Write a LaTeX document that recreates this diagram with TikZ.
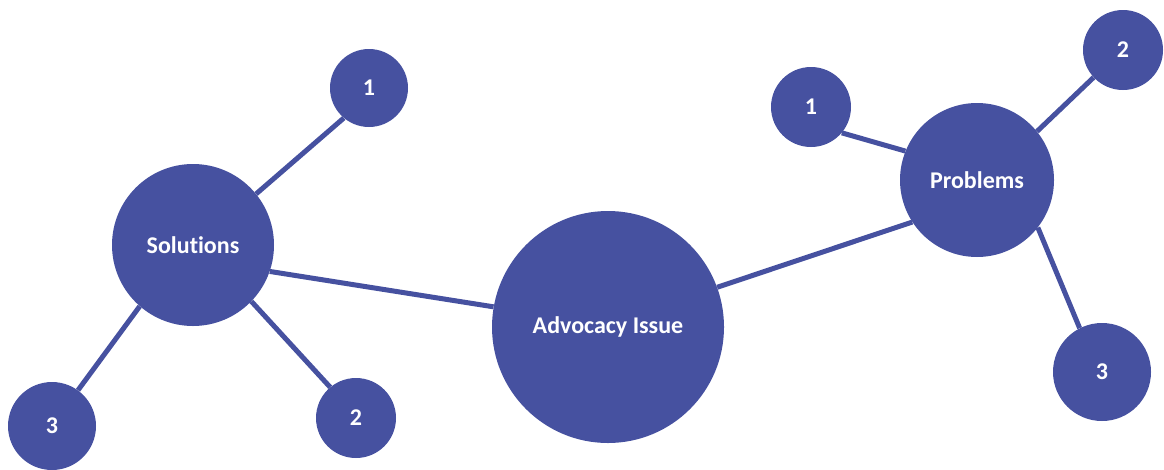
\documentclass[tikz,border=0pt]{standalone}
\usepackage{fontspec}
\setmainfont{Carlito}[Ligatures=NoCommon]
\usetikzlibrary{positioning}
\definecolor{hubblue}{RGB}{70,81,160}

\tikzset{
  bubble/.style={circle, fill=hubblue, text=white, inner sep=0pt,
    font=\bfseries\fontsize{24}{28}\selectfont},
  spoke/.style={draw=hubblue, line width=5pt}
}

\begin{document}
\begin{tikzpicture}[x=1pt,y=-1pt]
\useasboundingbox (0,0) rectangle (1164,469);
% centre
\node[bubble, minimum size=232pt] (issue) at (608,327) {Advocacy Issue};
% left group
\node[bubble, minimum size=162pt] (sol) at (193,245) {Solutions};
\node[bubble, minimum size=78pt] (sol1) at (369,88) {1};
\node[bubble, minimum size=80pt] (sol2) at (356,418) {2};
\node[bubble, minimum size=88pt] (sol3) at (52,426) {3};
% right group
\node[bubble, minimum size=154pt] (prob) at (977,180) {Problems};
\node[bubble, minimum size=80pt] (prob1) at (811,107) {1};
\node[bubble, minimum size=80pt] (prob2) at (1123,50) {2};
\node[bubble, minimum size=98pt] (prob3) at (1102,372) {3};

\draw[spoke] (sol.-19) -- (issue.170);
\draw[spoke] (issue.20) -- (prob.-147);
\draw[spoke] (sol.39) -- (sol1.-130);
\draw[spoke] (sol.-44) -- (sol2.130);
\draw[spoke] (sol.-131) -- (sol3.54);
\draw[spoke] (prob.158) -- (prob1.-40);
\draw[spoke] (prob.39) -- (prob2.-137);
\draw[spoke] (prob.-38) -- (prob3.117);
\end{tikzpicture}
\end{document}
